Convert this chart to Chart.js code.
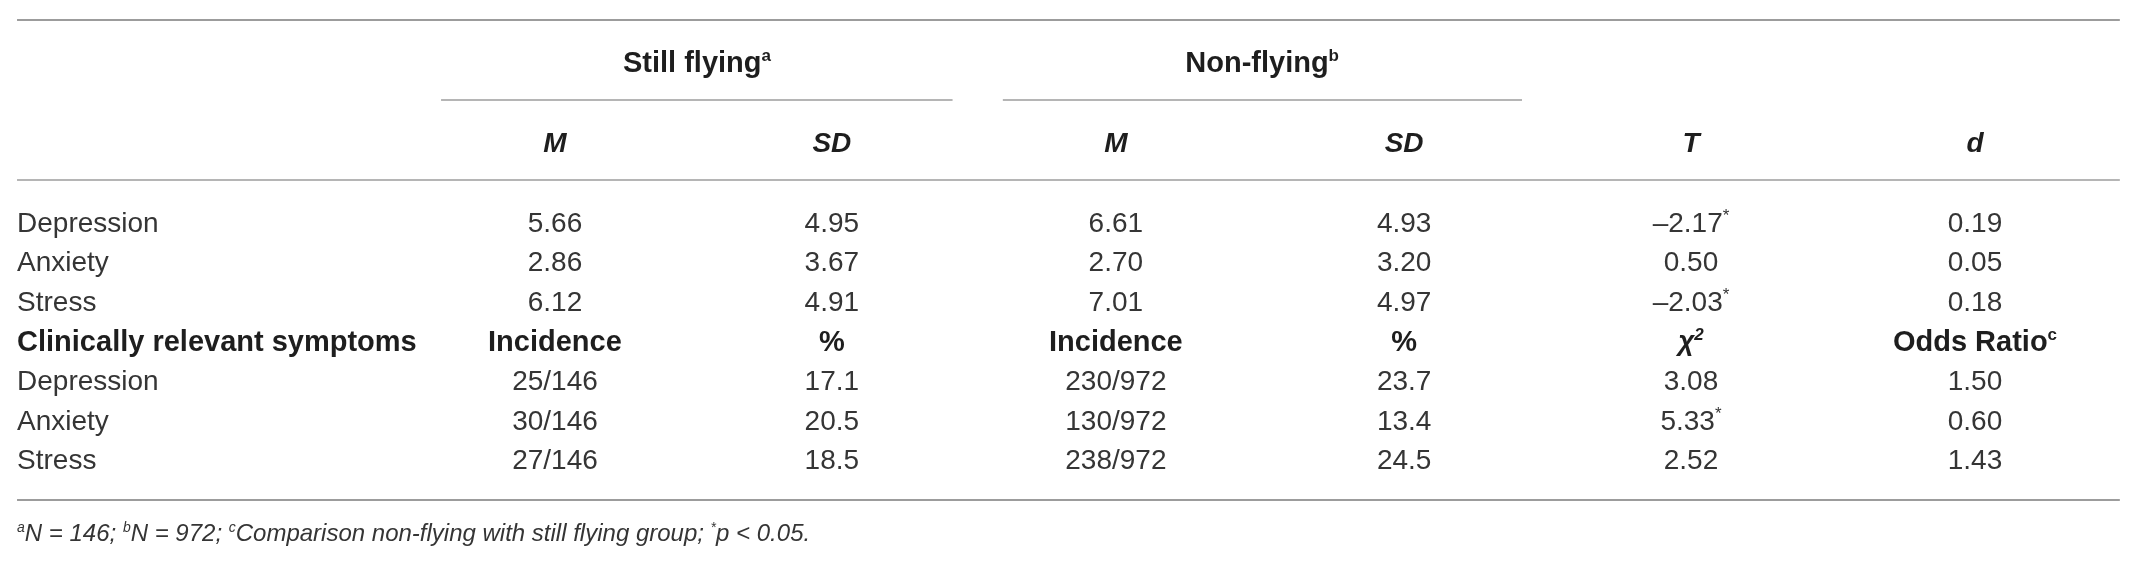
<!DOCTYPE html>
<html>
<head>
<meta charset="utf-8">
<script src="https://cdn.jsdelivr.net/npm/chart.js@4.4.1/dist/chart.umd.min.js"></script>
<style>
html, body { margin: 0; padding: 0; background: #fff; }
#wrap { width: 2140px; height: 565px; }
</style>
</head>
<body>
<div id="wrap"><canvas id="tabla"></canvas></div>
<script>
// datos de la tabla
var rowLabels = ['Depression', 'Anxiety', 'Stress', 'Clinically relevant symptoms', 'Depression', 'Anxiety', 'Stress'];
var groupHeaders = ['Still flying^{a}', 'Non-flying^{b}'];
var colHeaders = ['M', 'SD', 'M', 'SD', 'T', 'd'];
var colHeaders2 = ['Incidence', '%', 'Incidence', '%', 'χ^{2}', 'Odds Ratio^{c}'];

var stillM = [5.66, 2.86, 6.12];
var stillSD = [4.95, 3.67, 4.91];
var nonM = [6.61, 2.70, 7.01];
var nonSD = [4.93, 3.20, 4.97];
var tValues = [-2.17, 0.50, -2.03];
var tSig = [true, false, true];
var dValues = [0.19, 0.05, 0.18];

var stillInc = ['25/146', '30/146', '27/146'];
var stillPct = [17.1, 20.5, 18.5];
var nonInc = ['230/972', '130/972', '238/972'];
var nonPct = [23.7, 13.4, 24.5];
var chiSq = [3.08, 5.33, 2.52];
var chiSig = [false, true, false];
var oddsRatio = [1.50, 0.60, 1.43];

var footnote = '^{a}N = 146; ^{b}N = 972; ^{c}Comparison non-flying with still flying group; ^{*}p < 0.05.';

// posiciones (unidades de las escalas)
var colX = [1, 1.975, 2.975, 3.99, 5.0, 6];
var leftX = -0.894, rightX = 6.51;
var FONT = '"Liberation Sans", Arial, Helvetica, sans-serif';
var TXT = '#353535';
var TXT_BOLD = '#1e1e1e';
var RULE = '#9c9c9c';

function fmt(v, dec, sig) {
    var s = Math.abs(v).toFixed(dec);
    if (v < 0) s = '–' + s;
    if (sig) s += '^{*}';
    return s;
}

// columnas de la tabla
var columns = [
    { head: colHeaders[0], head2: colHeaders2[0], top: stillM.map(function (v) { return fmt(v, 2); }), bottom: stillInc },
    { head: colHeaders[1], head2: colHeaders2[1], top: stillSD.map(function (v) { return fmt(v, 2); }), bottom: stillPct.map(function (v) { return fmt(v, 1); }) },
    { head: colHeaders[2], head2: colHeaders2[2], top: nonM.map(function (v) { return fmt(v, 2); }), bottom: nonInc },
    { head: colHeaders[3], head2: colHeaders2[3], top: nonSD.map(function (v) { return fmt(v, 2); }), bottom: nonPct.map(function (v) { return fmt(v, 1); }) },
    { head: colHeaders[4], head2: colHeaders2[4], top: tValues.map(function (v, i) { return fmt(v, 2, tSig[i]); }), bottom: chiSq.map(function (v, i) { return fmt(v, 2, chiSig[i]); }) },
    { head: colHeaders[5], head2: colHeaders2[5], top: dValues.map(function (v) { return fmt(v, 2); }), bottom: oddsRatio.map(function (v) { return fmt(v, 2); }) }
];

var datasets = [];

// etiquetas de fila
datasets.push({
    cells: true, align: 'left',
    data: rowLabels.map(function (t, i) {
        return { x: leftX, y: i, s: t, st: i === 3 ? 'bold' : 'normal' };
    })
});

columns.forEach(function (c, k) {
    var d = [{ x: colX[k], y: -2.02, s: c.head, st: 'italic bold' }];
    c.top.forEach(function (t, i) { d.push({ x: colX[k], y: i, s: t, st: 'normal' }); });
    d.push({ x: colX[k], y: 3, s: c.head2, st: c.head2.indexOf('χ') === 0 ? 'italic bold' : 'bold' });
    c.bottom.forEach(function (t, i) { d.push({ x: colX[k], y: 4 + i, s: t, st: 'normal' }); });
    datasets.push({ cells: true, align: 'center', data: d });
});

datasets.push({
    cells: true, align: 'center',
    data: [
        { x: 1.5, y: -4.03, s: groupHeaders[0], st: 'bold' },
        { x: 3.49, y: -4.03, s: groupHeaders[1], st: 'bold' }
    ]
});

datasets.push({
    cells: true, align: 'left', size: 24,
    data: [{ x: leftX, y: 7.84, s: footnote, st: 'italic' }]
});

// lineas de la tabla
function rule(y, x0, x1, w) {
    return {
        showLine: true, borderColor: RULE, borderWidth: w, pointRadius: 0, fill: false,
        data: [{ x: x0, y: y }, { x: x1, y: y }]
    };
}
datasets.push(rule(-5.09, leftX, rightX, 2));
datasets.push(rule(-3.07, 0.599, 2.40, 1.5));
datasets.push(rule(-3.07, 2.577, 4.405, 1.5));
datasets.push(rule(-1.05, leftX, rightX, 1.5));
datasets.push(rule(7.03, leftX, rightX, 2));

datasets.forEach(function (ds) {
    if (ds.cells) { ds.pointRadius = 0; ds.showLine = false; }
});

function drawRich(ctx, str, x, y, align, style, size) {
    if (style === 'bold' && size === 28) size = 29; // la negrita del original es algo mas ancha
    var segs = str.split(/\^\{([^}]*)\}/);
    var big = style + ' ' + size + 'px ' + FONT;
    var small = style + ' ' + Math.round(size * 0.6) + 'px ' + FONT;
    var w = 0;
    segs.forEach(function (s, k) {
        ctx.font = k % 2 ? small : big;
        w += ctx.measureText(s).width;
    });
    var sx = align === 'left' ? x : x - w / 2;
    var base = y + size * 0.36;
    ctx.textAlign = 'left';
    ctx.textBaseline = 'alphabetic';
    ctx.fillStyle = style.indexOf('bold') >= 0 ? TXT_BOLD : TXT;
    segs.forEach(function (s, k) {
        ctx.font = k % 2 ? small : big;
        ctx.fillText(s, sx, k % 2 ? base - size * 0.38 : base);
        sx += ctx.measureText(s).width;
    });
}

var cellText = {
    id: 'cellText',
    afterDatasetsDraw: function (chart) {
        var ctx = chart.ctx;
        ctx.save();
        chart.data.datasets.forEach(function (ds, i) {
            if (!ds.cells) return;
            var meta = chart.getDatasetMeta(i);
            meta.data.forEach(function (pt, j) {
                var c = ds.data[j];
                drawRich(ctx, c.s, pt.x, pt.y, ds.align, c.st, ds.size || 28);
            });
        });
        ctx.restore();
    }
};

var tabla = new Chart(document.getElementById('tabla').getContext('2d'), {
    type: 'scatter',
    data: { datasets: datasets },
    options: {
        responsive: true,
        maintainAspectRatio: false,
        animation: false,
        events: [],
        layout: { padding: 0 },
        plugins: { legend: { display: false }, tooltip: { enabled: false } },
        scales: {
            x: { type: 'linear', display: false, min: -0.954, max: 6.581 },
            y: { type: 'linear', display: false, reverse: true, min: -5.596, max: 8.672 }
        }
    },
    plugins: [cellText]
});
</script>
</body>
</html>
